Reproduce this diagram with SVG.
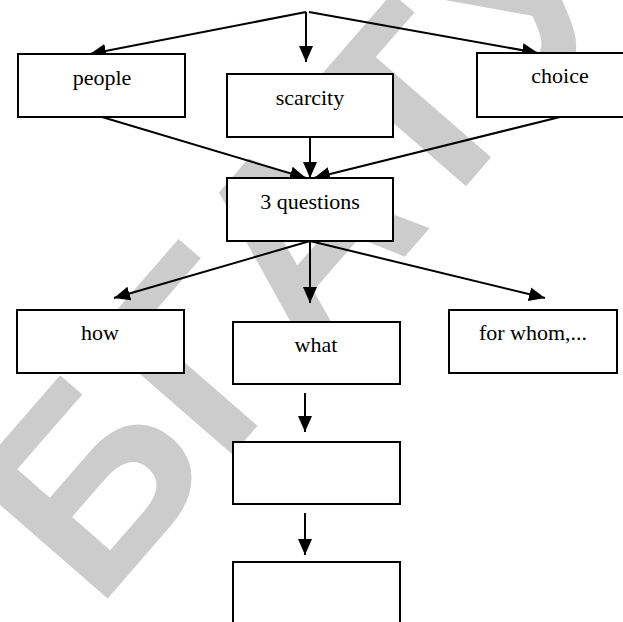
<svg xmlns="http://www.w3.org/2000/svg" width="623" height="622" viewBox="0 0 623 622">
<style>
.box{fill:#fff;stroke:#000;stroke-width:2}
.lbl{font-family:"Liberation Serif","Times New Roman","DejaVu Serif",serif;font-size:22px;fill:#000;text-anchor:middle}
.con{stroke:#000;stroke-width:2;fill:none;marker-end:url(#ah)}
.wm{font-family:"Liberation Sans",Arial,sans-serif;font-weight:bold;font-size:265px;fill:#cccccc;text-anchor:middle}
</style>
<defs>
<marker id="ah" markerUnits="userSpaceOnUse" markerWidth="16" markerHeight="16" viewBox="0 0 16 16" refX="16" refY="8" orient="auto">
<path d="M0,1 L16,8 L0,15 Z" fill="#000"/>
</marker>
</defs>
<rect width="623" height="622" fill="#fff"/>
<text class="wm" x="305" y="405" transform="translate(-5 -75) rotate(-49 305 315)">БГАТУ</text>
<g id="connectors">
<line class="con" x1="306" y1="12" x2="90" y2="54"/>
<line class="con" x1="306" y1="12" x2="306" y2="62"/>
<line class="con" x1="309" y1="12" x2="538" y2="53"/>
<line class="con" x1="102" y1="117" x2="306" y2="178"/>
<line class="con" x1="310" y1="137" x2="310" y2="178"/>
<line class="con" x1="560" y1="117" x2="314" y2="178"/>
<line class="con" x1="310" y1="241" x2="114" y2="298"/>
<line class="con" x1="310" y1="241" x2="310" y2="303"/>
<line class="con" x1="310" y1="241" x2="545" y2="298"/>
<line class="con" x1="305" y1="393" x2="305" y2="432"/>
<line class="con" x1="305" y1="513" x2="305" y2="555"/>
</g>
<g id="people"><rect class="box" x="18" y="54" width="167" height="63"/><text class="lbl" x="102" y="85">people</text></g>
<g id="scarcity"><rect class="box" x="227" y="74" width="166" height="63"/><text class="lbl" x="310" y="105">scarcity</text></g>
<g id="choice"><rect class="box" x="477" y="53" width="150" height="64"/><text class="lbl" x="560" y="83">choice</text></g>
<g id="questions"><rect class="box" x="227" y="178" width="166" height="63"/><text class="lbl" x="310" y="209">3 questions</text></g>
<g id="how"><rect class="box" x="17" y="310" width="167" height="63"/><text class="lbl" x="100" y="340">how</text></g>
<g id="what"><rect class="box" x="233" y="322" width="167" height="62"/><text class="lbl" x="316" y="352">what</text></g>
<g id="forwhom"><rect class="box" x="449" y="310" width="168" height="63"/><text class="lbl" x="533" y="340">for whom,...</text></g>
<g id="box1"><rect class="box" x="233" y="442" width="167" height="62"/></g>
<g id="box2"><rect class="box" x="233" y="562" width="167" height="70"/></g>
</svg>
